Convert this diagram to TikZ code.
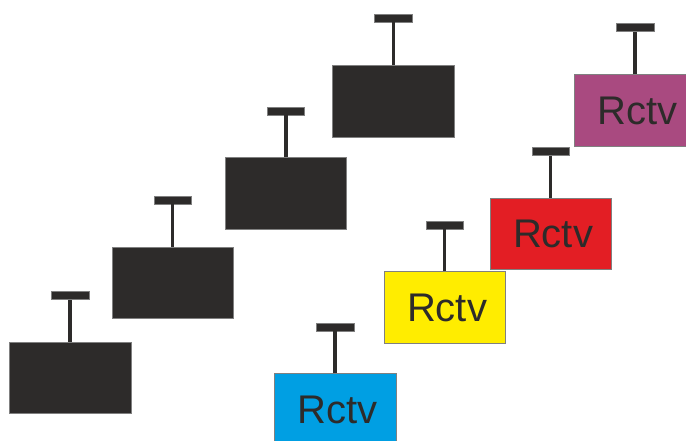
\documentclass[tikz,border=0pt]{standalone}
\usepackage{fontspec}
\setmainfont{Liberation Sans}
\usepackage{tikz}
\usetikzlibrary{positioning}
\definecolor{boxdark}{RGB}{45,43,42}
\definecolor{rcyan}{RGB}{0,159,227}
\definecolor{ryellow}{RGB}{255,237,0}
\definecolor{rred}{RGB}{227,30,36}
\definecolor{rmagenta}{RGB}{169,74,128}
\tikzstyle{box} = [rectangle, minimum width=121.5bp, minimum height=71.5bp, inner sep=0pt, draw=black!50, line width=0.5bp, text=boxdark, font=\fontsize{40bp}{40bp}\selectfont]
\tikzstyle{topbar} = [rectangle, minimum width=37.5bp, minimum height=8bp, inner sep=0pt, fill=boxdark, draw=black!50, line width=0.4bp]
\tikzstyle{stem} = [line width=3.4bp, draw=boxdark]

\begin{document}
\begin{tikzpicture}
\useasboundingbox (0,0) rectangle (686bp,441bp);
\clip (0,0) rectangle (686bp,441bp);
%%
\node (black_box1) at (70bp,63bp) [box,fill=boxdark] {};
  \node (black_cap1) at (70bp,145.5bp) [topbar] {};
  \node (black_box2) at (172.5bp,158bp) [box,fill=boxdark] {};
  \node (black_cap2) at (172.5bp,241bp) [topbar] {};
  \node (black_box3) at (285.8bp,247.5bp) [box,fill=boxdark] {};
  \node (black_cap3) at (285.8bp,330.2bp) [topbar] {};
  \node (black_box4) at (393.3bp,339.7bp) [box,fill=boxdark] {};
  \node (black_cap4) at (393.3bp,422.7bp) [topbar] {};
  \node (cyan_box) at (335bp,31.5bp) [box,fill=rcyan] {\hspace*{5bp}Rctv};
  \node (cyan_cap) at (335bp,114bp) [topbar] {};
  \node (yellow_box) at (444.5bp,133.5bp) [box,fill=ryellow] {\hspace*{5bp}Rctv};
  \node (yellow_cap) at (444.5bp,216bp) [topbar] {};
  \node (red_box) at (550.5bp,207bp) [box,fill=rred] {\hspace*{5bp}Rctv};
  \node (red_cap) at (550.5bp,289.5bp) [topbar] {};
  \node (magenta_box) at (635bp,330.5bp) [box,fill=rmagenta] {\hspace*{5bp}Rctv};
  \node (magenta_cap) at (635bp,413.5bp) [topbar] {};
  \draw [stem] (black_box1) -- (black_cap1);
  \draw [stem] (black_box2) -- (black_cap2);
  \draw [stem] (black_box3) -- (black_cap3);
  \draw [stem] (black_box4) -- (black_cap4);
  \draw [stem] (cyan_box) -- (cyan_cap);
  \draw [stem] (yellow_box) -- (yellow_cap);
  \draw [stem] (red_box) -- (red_cap);
  \draw [stem] (magenta_box) -- (magenta_cap);
%
\end{tikzpicture}
\end{document}
